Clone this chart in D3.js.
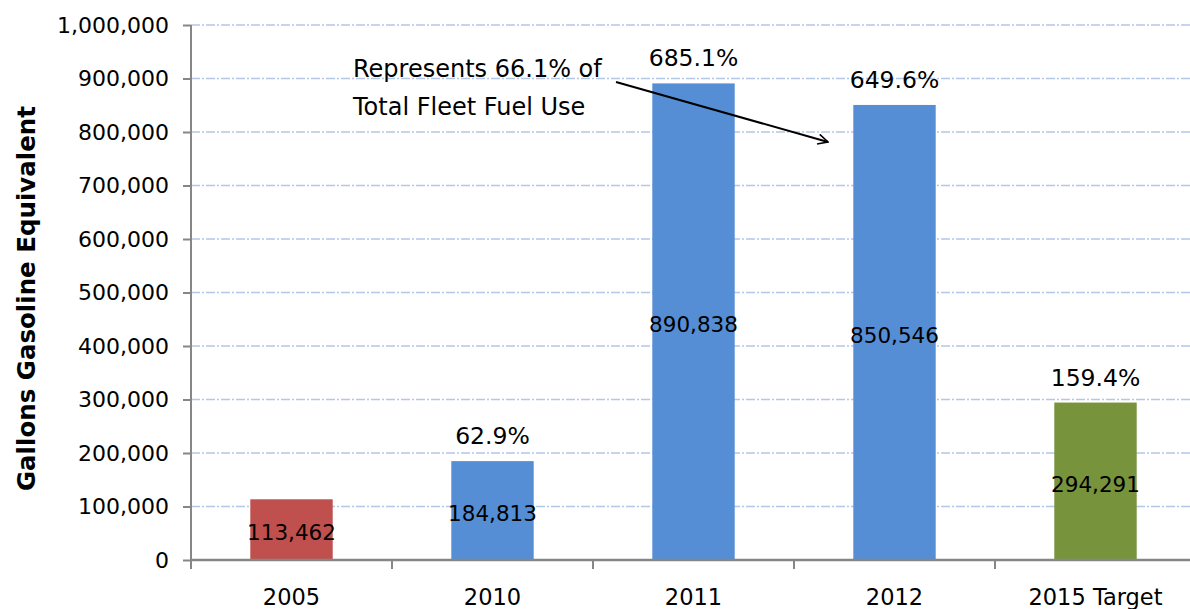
<!DOCTYPE html>
<html>
<head>
<meta charset="utf-8">
<script src="https://cdn.jsdelivr.net/npm/d3@7"></script>
<style>
  html, body { margin: 0; padding: 0; background: #fff; }
  svg { display: block; font-family: "DejaVu Sans", sans-serif; }
</style>
</head>
<body>
<div class="canvas"></div>
<script>
const svgWidth = 1190;
const svgHeight = 609;

// chart data
const categories = ['2005', '2010', '2011', '2012', '2015 Target'];
const gallons = [113462, 184813, 890838, 850546, 294291];
const pctIncrease = [null, 62.9, 685.1, 649.6, 159.4];
const barColors = ['#c0504d', '#558ed5', '#558ed5', '#558ed5', '#77933c'];
const yTicks = [0, 100000, 200000, 300000, 400000, 500000, 600000, 700000, 800000, 900000, 1000000];
const noteLines = ['Represents 66.1% of', 'Total Fleet Fuel Use'];

const svg = d3.select('.canvas')
    .append('svg')
    .attr('width', svgWidth)
    .attr('height', svgHeight);

const margin = { top: 25, right: -6, bottom: 49, left: 191 };
const graphWidth = svgWidth - margin.left - margin.right;
const graphHeight = svgHeight - margin.top - margin.bottom;

const graph = svg.append('g')
    .attr('transform', `translate(${margin.left}, ${margin.top})`);

const x = d3.scaleBand()
    .domain(categories)
    .range([0, graphWidth])
    .paddingInner(0.59)
    .paddingOuter(0.295);

// plain band scale for the category boundaries (tick marks)
const xCell = d3.scaleBand()
    .domain(categories)
    .range([0, graphWidth]);

const y = d3.scaleLinear()
    .domain([0, 1000000])
    .range([graphHeight, 0]);

const fmt = d3.format(',');

// gridlines
graph.append('g')
    .selectAll('line')
    .data(yTicks.filter(d => d > 0))
    .enter()
    .append('line')
    .attr('x1', 0)
    .attr('x2', svgWidth - margin.left)
    .attr('y1', d => y(d))
    .attr('y2', d => y(d))
    .attr('stroke', '#b4c7e7')
    .attr('stroke-width', 1.5)
    .attr('stroke-dasharray', '9,2,2,2');

// bars
graph.selectAll('.bar')
    .data(gallons)
    .enter()
    .append('rect')
    .attr('class', 'bar')
    .attr('x', (d, i) => x(categories[i]))
    .attr('y', d => y(d))
    .attr('width', x.bandwidth())
    .attr('height', d => graphHeight - y(d))
    .attr('fill', (d, i) => barColors[i]);

// value labels in the middle of the bars
graph.selectAll('.val')
    .data(gallons)
    .enter()
    .append('text')
    .attr('class', 'val')
    .attr('x', (d, i) => x(categories[i]) + x.bandwidth() / 2)
    .attr('y', d => (y(d) + graphHeight) / 2 + 3)
    .attr('dy', '0.36em')
    .attr('text-anchor', 'middle')
    .attr('font-size', 21.5)
    .attr('fill', '#000')
    .text(d => fmt(d));

// percent labels above the bars (2005 is the base year, no label)
const pctData = pctIncrease
    .map((p, i) => ({ cat: categories[i], val: gallons[i], pct: p }))
    .filter(d => d.pct !== null);

graph.selectAll('.pct')
    .data(pctData)
    .enter()
    .append('text')
    .attr('class', 'pct')
    .attr('x', d => x(d.cat) + x.bandwidth() / 2)
    .attr('y', d => y(d.val) - 17)
    .attr('text-anchor', 'middle')
    .attr('font-size', 23.5)
    .attr('fill', '#000')
    .text(d => d.pct.toFixed(1) + '%');

// y axis
const yAxis = d3.axisLeft(y)
    .tickValues(yTicks)
    .tickFormat(fmt)
    .tickSize(8)
    .tickPadding(14);

const yAxisGroup = graph.append('g').call(yAxis);
yAxisGroup.select('.domain').attr('stroke', '#868686').attr('stroke-width', 2)
    .attr('d', `M0,0V${graphHeight}`);
yAxisGroup.selectAll('.tick line').attr('stroke', '#868686').attr('stroke-width', 2);
yAxisGroup.selectAll('.tick text')
    .attr('font-size', 22)
    .attr('font-family', '"DejaVu Sans", sans-serif')
    .attr('fill', '#000');

// x axis with ticks at category boundaries
const xAxisGroup = graph.append('g')
    .attr('transform', `translate(0, ${graphHeight})`);

xAxisGroup.append('line')
    .attr('x1', 0)
    .attr('x2', svgWidth - margin.left)
    .attr('stroke', '#868686')
    .attr('stroke-width', 2.5);

xAxisGroup.selectAll('.xtick')
    .data(categories.slice(1))
    .enter()
    .append('line')
    .attr('class', 'xtick')
    .attr('x1', d => xCell(d))
    .attr('x2', d => xCell(d))
    .attr('y1', 0)
    .attr('y2', 9)
    .attr('stroke', '#868686')
    .attr('stroke-width', 2);

xAxisGroup.append('line')
    .attr('x1', 0).attr('x2', 0)
    .attr('y1', 0).attr('y2', 9)
    .attr('stroke', '#868686')
    .attr('stroke-width', 2);

xAxisGroup.selectAll('.xlabel')
    .data(categories)
    .enter()
    .append('text')
    .attr('class', 'xlabel')
    .attr('x', d => xCell(d) + xCell.bandwidth() / 2)
    .attr('y', 45)
    .attr('text-anchor', 'middle')
    .attr('font-size', 22.5)
    .attr('fill', '#000')
    .text(d => d);

// y axis title
svg.append('text')
    .attr('transform', `translate(35, ${margin.top + graphHeight / 2 + 6}) rotate(-90)`)
    .attr('text-anchor', 'middle')
    .attr('font-size', 24.5)
    .attr('font-weight', 'bold')
    .attr('fill', '#000')
    .text('Gallons Gasoline Equivalent');

// annotation with arrow
svg.append('defs').append('marker')
    .attr('id', 'arrow')
    .attr('viewBox', '0 0 12 12')
    .attr('refX', 11)
    .attr('refY', 6)
    .attr('markerWidth', 12)
    .attr('markerHeight', 12)
    .attr('markerUnits', 'userSpaceOnUse')
    .attr('orient', 'auto')
    .append('path')
    .attr('d', 'M1,1 L11,6 L1,11')
    .attr('fill', 'none')
    .attr('stroke', '#000')
    .attr('stroke-width', 1.6);

const note = svg.append('g');
note.selectAll('text')
    .data(noteLines)
    .enter()
    .append('text')
    .attr('x', 353)
    .attr('y', (d, i) => 77 + i * 38)
    .attr('font-size', 24)
    .attr('fill', '#000')
    .text(d => d);

note.append('line')
    .attr('x1', 616)
    .attr('y1', 82)
    .attr('x2', 828)
    .attr('y2', 142)
    .attr('stroke', '#000')
    .attr('stroke-width', 2)
    .attr('marker-end', 'url(#arrow)');
</script>
</body>
</html>
